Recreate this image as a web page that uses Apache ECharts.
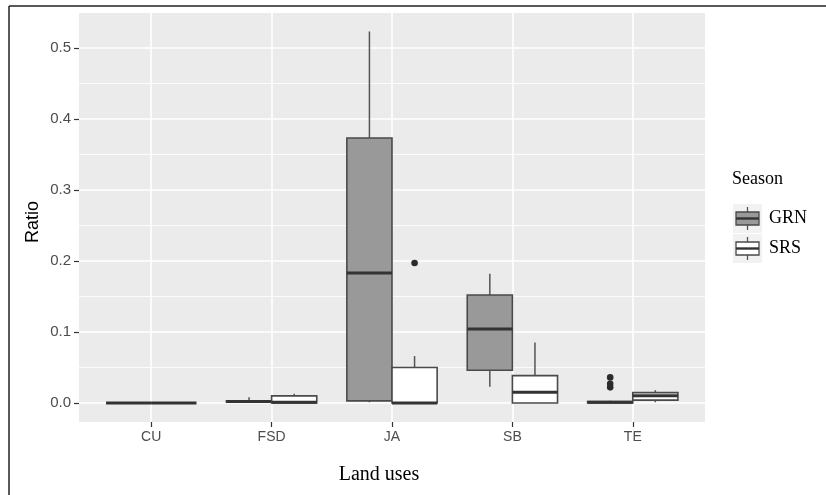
<!DOCTYPE html>
<html>
<head>
<meta charset="utf-8">
<script src="https://cdn.jsdelivr.net/npm/echarts@6/dist/echarts.min.js"></script>
<style>html,body{margin:0;padding:0;background:#fff}#c{width:826px;height:495px}</style>
</head>
<body>
<div id="c"></div>
<script>
const categories = ['CU', 'FSD', 'JA', 'SB', 'TE'];
const catIndex = [0, 1, 2, 3, 4];
// GRN season: [min, q1, median, q3, max] per category
const grnMin = [0, 0.001, 0.001, 0.023, 0];
const grnQ1  = [0, 0.001, 0.003, 0.046, 0];
const grnMed = [0, 0.002, 0.183, 0.104, 0.001];
const grnQ3  = [0, 0.003, 0.373, 0.152, 0.002];
const grnMax = [0, 0.008, 0.523, 0.182, 0.003];
// SRS season
const srsMin = [0, 0, 0, 0, 0.001];
const srsQ1  = [0, 0, 0, 0, 0.004];
const srsMed = [0, 0.001, 0, 0.015, 0.010];
const srsQ3  = [0, 0.010, 0.050, 0.0385, 0.0145];
const srsMax = [0, 0.013, 0.066, 0.085, 0.018];
// outliers: [category index, value]
const grnOutliers = [[4, 0.036], [4, 0.027], [4, 0.022]];
const srsOutliers = [[2, 0.197]];
// axis ticks
const yMajorTicks = [0, 0.1, 0.2, 0.3, 0.4, 0.5];
const yMinorTicks = [0.05, 0.15, 0.25, 0.35, 0.45];
const yMin = -0.0268, yMax = 0.549;
const xMin = -0.6, xMax = 4.6;

function boxData(mn, q1, md, q3, mx) {
  return catIndex.map(i => [i, mn[i], q1[i], md[i], q3[i], mx[i]]);
}

const DODGE = 0.1875, BOXW = 0.375;

function makeBoxRender(side, fill) {
  return function (params, api) {
    const i = api.value(0);
    const band = api.size([1, 0])[0];
    const c = api.coord([i, 0]);
    const cx = c[0] + side * DODGE * band;
    const w = BOXW * band;
    const yMn = api.coord([i, api.value(1)])[1];
    const yQ1 = api.coord([i, api.value(2)])[1];
    const yMd = api.coord([i, api.value(3)])[1];
    const yQ3 = api.coord([i, api.value(4)])[1];
    const yMx = api.coord([i, api.value(5)])[1];
    return {
      type: 'group',
      children: [
        { type: 'line', shape: { x1: cx, y1: yMx, x2: cx, y2: yQ3 }, style: { stroke: '#555', lineWidth: 1.5 } },
        { type: 'line', shape: { x1: cx, y1: yQ1, x2: cx, y2: yMn }, style: { stroke: '#555', lineWidth: 1.5 } },
        { type: 'rect', shape: { x: cx - w / 2, y: yQ3, width: w, height: yQ1 - yQ3 }, style: { fill: fill, stroke: '#4a4a4a', lineWidth: 1.6 } },
        { type: 'line', shape: { x1: cx - w / 2, y1: yMd, x2: cx + w / 2, y2: yMd }, style: { stroke: '#333', lineWidth: 3 } }
      ]
    };
  };
}
function makeOutlierRender(side) {
  return function (params, api) {
    const i = api.value(0);
    const band = api.size([1, 0])[0];
    const p = api.coord([i, api.value(1)]);
    return { type: 'circle', shape: { cx: p[0] + side * DODGE * band, cy: p[1], r: 3.3 }, style: { fill: '#2b2b2b' } };
  };
}

const gridLines = []
  .concat(yMajorTicks.map(v => ({ yAxis: v, lineStyle: { color: '#fff', width: 1.6, type: 'solid' } })))
  .concat(yMinorTicks.map(v => ({ yAxis: v, lineStyle: { color: '#fff', width: 0.8, type: 'solid' } })))
  .concat(catIndex.map(i => ({ xAxis: i, lineStyle: { color: '#fff', width: 1.6, type: 'solid' } })));

const serif = 'Liberation Serif, Times New Roman, serif';
const sans = 'Liberation Sans, Arial, sans-serif';

const chart = echarts.init(document.getElementById('c'), null, { renderer: 'canvas' });
chart.setOption({
  animation: false,
  backgroundColor: '#fff',
  grid: { left: 79, right: 121, top: 13, bottom: 73, show: true, backgroundColor: '#EBEBEB', borderWidth: 0 },
  xAxis: {
    type: 'value', min: xMin, max: xMax, position: 'bottom',
    axisLine: { show: false, onZero: false },
    axisTick: { show: true, customValues: catIndex, length: 5, lineStyle: { color: '#333', width: 1.2 } },
    axisLabel: { customValues: catIndex, color: '#4D4D4D', fontSize: 14, fontFamily: sans, margin: 8,
      formatter: v => categories[Math.round(v)] },
    splitLine: { show: false }
  },
  yAxis: {
    type: 'value', min: yMin, max: yMax, position: 'left',
    axisLine: { show: false, onZero: false },
    axisTick: { show: true, customValues: yMajorTicks, length: 5, lineStyle: { color: '#333', width: 1.2 } },
    axisLabel: { customValues: yMajorTicks, color: '#4D4D4D', fontSize: 15, fontFamily: sans, margin: 8,
      formatter: v => v.toFixed(1) },
    splitLine: { show: false }
  },
  series: [
    {
      type: 'line', data: [], silent: true, symbol: 'none',
      markLine: { silent: true, symbol: ['none', 'none'], z: 1, label: { show: false }, animation: false, data: gridLines }
    },
    { name: 'GRN', type: 'custom', z: 3, renderItem: makeBoxRender(-1, '#999999'), data: boxData(grnMin, grnQ1, grnMed, grnQ3, grnMax), encode: { x: 0, y: [1, 2, 3, 4, 5] } },
    { name: 'SRS', type: 'custom', z: 3, renderItem: makeBoxRender(1, '#ffffff'), data: boxData(srsMin, srsQ1, srsMed, srsQ3, srsMax), encode: { x: 0, y: [1, 2, 3, 4, 5] } },
    { name: 'GRN outliers', type: 'custom', z: 4, renderItem: makeOutlierRender(-1), data: grnOutliers, encode: { x: 0, y: 1 } },
    { name: 'SRS outliers', type: 'custom', z: 4, renderItem: makeOutlierRender(1), data: srsOutliers, encode: { x: 0, y: 1 } }
  ],
  graphic: [
    { type: 'line', shape: { x1: 9, y1: 6, x2: 826, y2: 6 }, style: { stroke: '#222', lineWidth: 1.5 } },
    { type: 'line', shape: { x1: 9, y1: 6, x2: 9, y2: 495 }, style: { stroke: '#222', lineWidth: 1.5 } },
    { type: 'text', x: 33, y: 222, rotation: Math.PI / 2, style: { text: 'Ratio', fontSize: 18, fontFamily: sans, fill: '#000', align: 'center', verticalAlign: 'middle' } },
    { type: 'text', x: 379, y: 475, style: { text: 'Land uses', fontSize: 20, fontFamily: serif, fill: '#000', align: 'center', verticalAlign: 'middle' } },
    { type: 'text', left: 732, top: 170, style: { text: 'Season', fontSize: 18, fontFamily: serif, fill: '#000' } },
    // legend keys
    { type: 'group', left: 733, top: 204, children: [
      { type: 'rect', shape: { x: 0, y: 0, width: 29, height: 29 }, style: { fill: '#F2F2F2' } },
      { type: 'line', shape: { x1: 14.5, y1: 3, x2: 14.5, y2: 26 }, style: { stroke: '#555', lineWidth: 1.3 } },
      { type: 'rect', shape: { x: 3, y: 8, width: 23, height: 13 }, style: { fill: '#999999', stroke: '#4a4a4a', lineWidth: 1.3 } },
      { type: 'line', shape: { x1: 3, y1: 14.5, x2: 26, y2: 14.5 }, style: { stroke: '#333', lineWidth: 2.4 } }
    ] },
    { type: 'group', left: 733, top: 234, children: [
      { type: 'rect', shape: { x: 0, y: 0, width: 29, height: 29 }, style: { fill: '#F2F2F2' } },
      { type: 'line', shape: { x1: 14.5, y1: 3, x2: 14.5, y2: 26 }, style: { stroke: '#555', lineWidth: 1.3 } },
      { type: 'rect', shape: { x: 3, y: 8, width: 23, height: 13 }, style: { fill: '#ffffff', stroke: '#4a4a4a', lineWidth: 1.3 } },
      { type: 'line', shape: { x1: 3, y1: 14.5, x2: 26, y2: 14.5 }, style: { stroke: '#333', lineWidth: 2.4 } }
    ] },
    { type: 'text', left: 769, top: 209, style: { text: 'GRN', fontSize: 18, fontFamily: serif, fill: '#000' } },
    { type: 'text', left: 769, top: 239, style: { text: 'SRS', fontSize: 18, fontFamily: serif, fill: '#000' } }
  ]
});
</script>
</body>
</html>
